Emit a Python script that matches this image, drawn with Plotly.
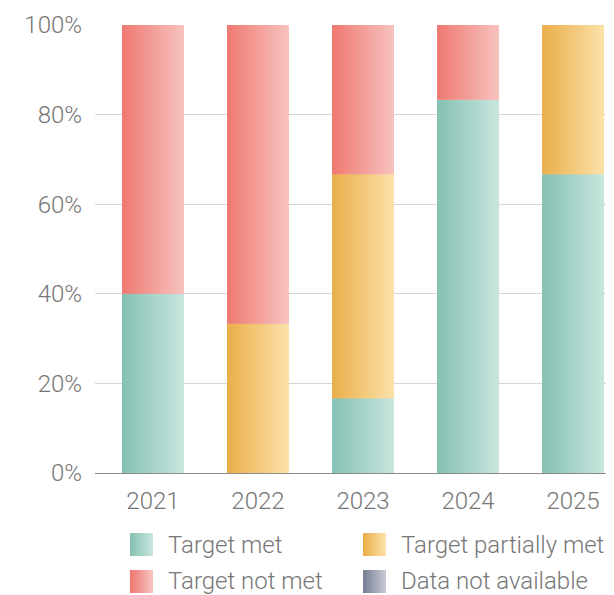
import plotly.graph_objects as go

# ---- data ----
years = ["2021", "2022", "2023", "2024", "2025"]
target_met = [40.0, 0.0, 16.67, 83.33, 66.67]
target_partially_met = [0.0, 33.33, 50.0, 0.0, 33.33]
target_not_met = [60.0, 66.67, 33.33, 16.67, 0.0]
y_tick_values = [0, 20, 40, 60, 80, 100]
y_tick_labels = ["0%", "20%", "40%", "60%", "80%", "100%"]
legend_labels = ["Target met", "Target partially met", "Target not met", "Data not available"]

# ---- style ----
grad_met = ("#86c2b3", "#c7e5dd")
grad_partial = ("#eaaf4b", "#fbe1a8")
grad_not_met = ("#ef7a72", "#f7c2be")
grad_na = ("#7a8194", "#c4c8d2")
FONT = "Roboto"
TXT = "#767676"
W = 0.59          # bar width (category units)
N_STRIPS = 28     # strips used to render horizontal gradient
OFF = 8           # page body margin


def hex2rgb(h):
    h = h.lstrip("#")
    return tuple(int(h[i:i + 2], 16) for i in (0, 2, 4))


def lerp(c1, c2, t):
    a, b = hex2rgb(c1), hex2rgb(c2)
    return "rgb(%d,%d,%d)" % tuple(round(a[i] + (b[i] - a[i]) * t) for i in range(3))


fig = go.Figure()

series = [
    ("Target met", target_met, grad_met),
    ("Target partially met", target_partially_met, grad_partial),
    ("Target not met", target_not_met, grad_not_met),
]

base = [0.0] * len(years)
for name, vals, grad in series:
    step = W / N_STRIPS
    for k in range(N_STRIPS):
        t = k / (N_STRIPS - 1)
        off = -W / 2 + k * step
        wid = min(step * 1.8, W / 2 - off)
        fig.add_trace(go.Bar(
            x=years, y=vals, base=list(base),
            offset=off, width=wid,
            marker=dict(color=lerp(grad[0], grad[1], t), line=dict(width=0)),
            name=name, showlegend=False,
            hoverinfo="skip" if k else "x+y+name",
        ))
    base = [b + v for b, v in zip(base, vals)]

# ---- geometry (screen pixels) ----
FW, FH = 614 - OFF, 595 - OFF
L, R, T, B = 95 - OFF, 614 - OFF, 25 - OFF, 473 - OFF
PW, PH = R - L, B - T


def px_x(px):
    return (px - OFF - L) / PW


def px_y(py):
    return (B - (py - OFF)) / PH


legend_items = [
    (legend_labels[0], grad_met, 130, 533, 545),
    (legend_labels[1], grad_partial, 363, 533, 545),
    (legend_labels[2], grad_not_met, 130, 570, 581),
    (legend_labels[3], grad_na, 363, 570, 581),
]
SW = 23
n_sw = 12
for label, grad, sx, sy, ty in legend_items:
    for k in range(n_sw):
        t = k / (n_sw - 1)
        x0 = sx + k * SW / n_sw
        x1 = min(sx + SW, x0 + SW / n_sw * 1.8)
        fig.add_shape(type="rect", xref="paper", yref="paper",
                      x0=px_x(x0), x1=px_x(x1), y0=px_y(sy + SW), y1=px_y(sy),
                      fillcolor=lerp(grad[0], grad[1], t), line=dict(width=0),
                      layer="above")
    fig.add_annotation(xref="paper", yref="paper", x=px_x(sx + 36), y=px_y(ty),
                       xanchor="left", yanchor="middle", showarrow=False,
                       text=label, font=dict(family=FONT, size=24, color=TXT, weight=300))

fig.update_layout(
    width=FW, height=FH,
    margin=dict(l=L, r=FW - R, t=T, b=FH - B, pad=0),
    barmode="overlay",
    plot_bgcolor="white", paper_bgcolor="white",
    showlegend=False,
    font=dict(family=FONT, color=TXT, size=23, weight=300),
    xaxis=dict(type="category", range=[-0.552, 4.39], showgrid=False,
               showline=True, linecolor="#8c8c8c", linewidth=1,
               ticks="", tickfont=dict(size=24, color=TXT, family=FONT, weight=300),
               ticklabelstandoff=6, fixedrange=True),
    yaxis=dict(range=[0, 100], tickmode="array", tickvals=y_tick_values,
               ticktext=y_tick_labels,
               showgrid=True, gridcolor="#d6d6d6", gridwidth=1,
               zeroline=False, showline=False, ticks="",
               tickfont=dict(size=24, color=TXT, family=FONT, weight=300),
               ticklabelstandoff=12, fixedrange=True),
)

fig.write_html("out.html")
